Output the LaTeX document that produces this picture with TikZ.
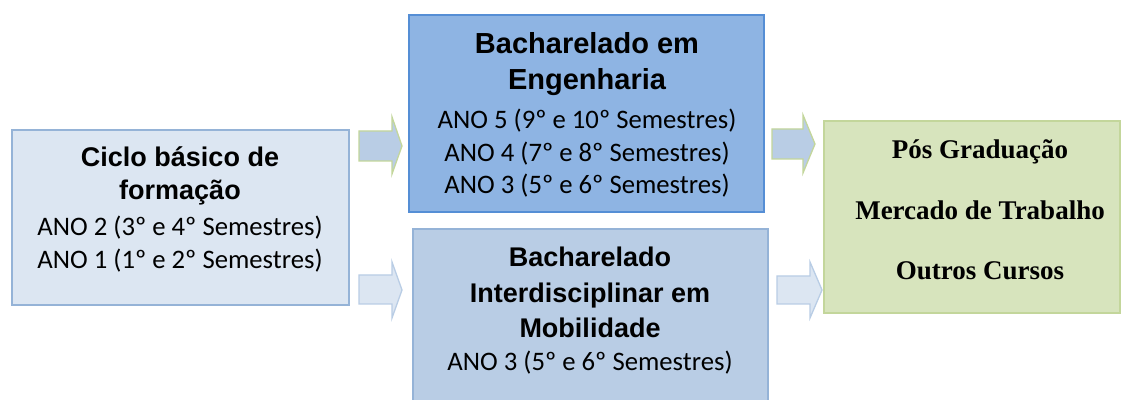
\documentclass[tikz,border=0pt]{standalone}
\usepackage{fontspec}
\setmainfont{Carlito}
\newfontfamily\titlefont{Liberation Sans}
\newfontfamily\timesfont{Liberation Serif}
\definecolor{leftfill}{HTML}{DCE6F2}
\definecolor{leftdraw}{HTML}{95B3D7}
\definecolor{engfill}{HTML}{8EB4E3}
\definecolor{engdraw}{HTML}{558ED5}
\definecolor{mobfill}{HTML}{B9CDE5}
\definecolor{mobdraw}{HTML}{95B3D7}
\definecolor{greenfill}{HTML}{D7E4BD}
\definecolor{greendraw}{HTML}{C3D69B}
\tikzset{
  box/.style={line width=1.3pt},
  ttl/.style={anchor=base,inner sep=0pt,font=\titlefont\bfseries\fontsize{27}{27}\selectfont},
  bigttl/.style={anchor=base,inner sep=0pt,font=\titlefont\bfseries\fontsize{29}{29}\selectfont},
  body/.style={anchor=base,inner sep=0pt,font=\fontsize{26.7}{26.7}\selectfont},
  tms/.style={anchor=base,inner sep=0pt,font=\timesfont\bfseries\fontsize{27}{27}\selectfont},
  arrowup/.style={fill=mobfill,draw=greendraw,line width=1.3pt,line join=miter},
  arrowlow/.style={fill=leftfill,draw=mobfill,line width=1.3pt,line join=miter},
}
\begin{document}
\begin{tikzpicture}[x=1pt,y=1pt]
\useasboundingbox (0,0) rectangle (1124,399);
\fill[white] (0,0) rectangle (1124,399);
% boxes
\draw[box,fill=leftfill,draw=leftdraw] (12,94) rectangle (349,269);
\coordinate (leftbox) at (180.5,181.5);
\draw[box,fill=engfill,draw=engdraw] (409,187) rectangle (764,384);
\coordinate (engbox) at (586.5,285.5);
\draw[box,fill=mobfill,draw=mobdraw] (413,-5) rectangle (768,170);
\coordinate (mobbox) at (590.5,82.5);
\draw[box,fill=greenfill,draw=greendraw] (824,86) rectangle (1120,278);
\coordinate (greenbox) at (972,182);
% block arrows
\draw[arrowup] (359,238) -- (392,238) -- (392,225) -- (402,253) -- (392,282) -- (392,268) -- (359,268) -- cycle;
\draw[arrowlow] (359,95) -- (392,95) -- (392,81) -- (402,109) -- (392,137) -- (392,124) -- (359,124) -- cycle;
\draw[arrowup] (772,240) -- (803,240) -- (803,226) -- (815,255) -- (803,284) -- (803,270) -- (772,270) -- cycle;
\draw[arrowlow] (777,95) -- (810,95) -- (810,81) -- (822,109) -- (810,137) -- (810,123) -- (777,123) -- cycle;
% texts left
\node[ttl] (l1) at (180,399-167) {Ciclo básico de};
\node[ttl] (l2) at (180,399-200) {formação};
\node[body] (l3) at (180,399-236) {ANO 2 (3º e 4º Semestres)};
\node[body] (l4) at (180,399-269) {ANO 1 (1º e 2º Semestres)};
% texts eng
\node[bigttl] (e1) at (587,399-54) {Bacharelado em};
\node[bigttl] (e2) at (587,399-90) {Engenharia};
\node[body] (e3) at (587,399-129) {ANO 5 (9º e 10º Semestres)};
\node[body] (e4) at (587,399-162) {ANO 4 (7º e 8º Semestres)};
\node[body] (e5) at (587,399-194) {ANO 3 (5º e 6º Semestres)};
% texts mob
\node[ttl] (m1) at (590,399-267) {Bacharelado};
\node[ttl] (m2) at (590,399-303) {Interdisciplinar em};
\node[ttl] (m3) at (590,399-337) {Mobilidade};
\node[body] (m4) at (590,399-370) {ANO 3 (5º e 6º Semestres)};
% texts green
\node[tms] (g1) at (980,399-159) {Pós Graduação};
\node[tms] (g2) at (980,399-220) {Mercado de Trabalho};
\node[tms] (g3) at (980,399-280) {Outros Cursos};
\end{tikzpicture}
\end{document}
